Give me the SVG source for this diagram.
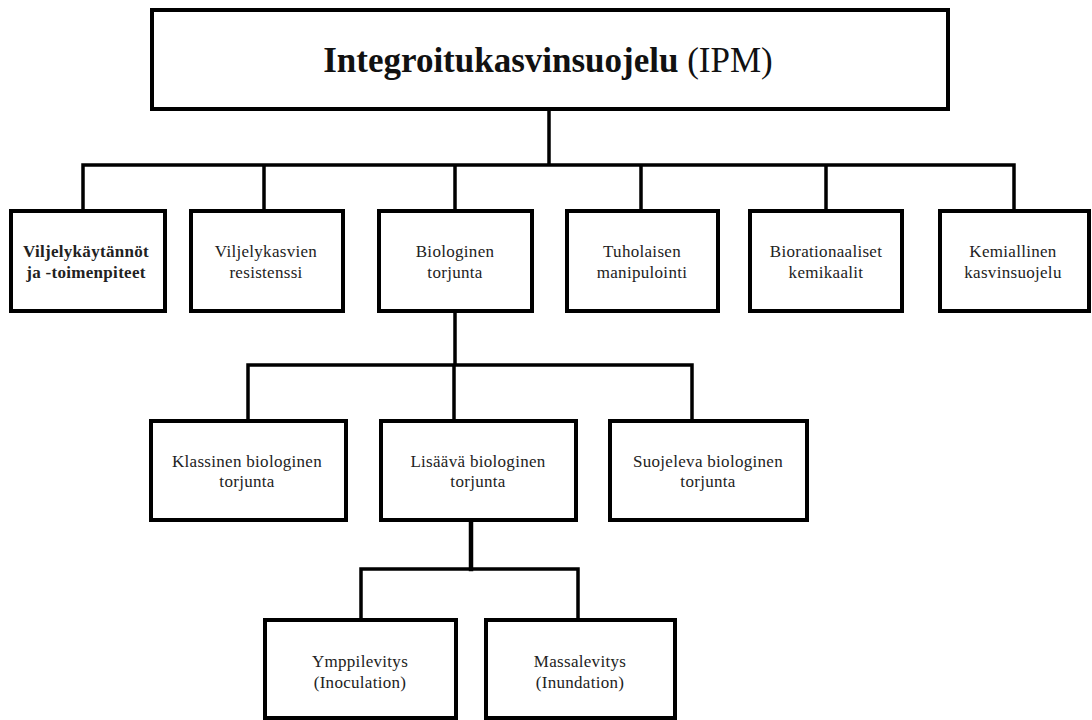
<svg xmlns="http://www.w3.org/2000/svg" width="1092" height="720" viewBox="0 0 1092 720">
<style>
.box{fill:#fff;stroke:#000;stroke-width:4}
.con{fill:none;stroke:#000;stroke-width:3.5;stroke-linecap:square}
text{font-family:"Liberation Serif","Times New Roman",serif;font-size:17px;fill:#222;text-anchor:middle;letter-spacing:0.3px}
.b{font-weight:bold}
</style>
<rect width="1092" height="720" fill="#fff"/>
<g id="connectors">
<path class="con" d="M549 109V165M83 165H1014M83 165V211M264 165V211M455 165V211M641 165V211M826 165V211M1014 165V211"/>
<path class="con" d="M455 311V365M248 365H692M248 365V421M454 365V421M692 365V421"/>
<path class="con" style="stroke-width:4.5" d="M471 520V569"/>
<path class="con" d="M361 569H578M361 569V620M578 569V620"/>
</g>
<g id="n-ipm"><rect class="box" x="152" y="10" width="796" height="99"/>
<text x="548" y="72" style="font-size:35px;fill:#111;letter-spacing:0"><tspan class="b">Integroitukasvinsuojelu</tspan> (IPM)</text></g>
<g id="n-viljelykaytannot"><rect class="box" x="11" y="211" width="154" height="100"/>
<text class="b" x="86" y="257">Viljelykäytännöt</text><text class="b" x="86" y="278">ja -toimenpiteet</text></g>
<g id="n-resistenssi"><rect class="box" x="191" y="211" width="152" height="100"/>
<text x="266" y="257">Viljelykasvien</text><text x="266" y="278">resistenssi</text></g>
<g id="n-biologinen"><rect class="box" x="379" y="211" width="153" height="100"/>
<text x="455" y="257">Biologinen</text><text x="455" y="278">torjunta</text></g>
<g id="n-tuholaisen"><rect class="box" x="567" y="211" width="151" height="100"/>
<text x="642" y="257">Tuholaisen</text><text x="642" y="278">manipulointi</text></g>
<g id="n-biorationaaliset"><rect class="box" x="750" y="211" width="152" height="100"/>
<text x="826" y="257">Biorationaaliset</text><text x="826" y="278">kemikaalit</text></g>
<g id="n-kemiallinen"><rect class="box" x="940" y="211" width="149" height="100"/>
<text x="1013" y="257">Kemiallinen</text><text x="1013" y="278">kasvinsuojelu</text></g>
<g id="n-klassinen"><rect class="box" x="151" y="421" width="195" height="99"/>
<text x="247" y="467">Klassinen biologinen</text><text x="247" y="487">torjunta</text></g>
<g id="n-lisaava"><rect class="box" x="381" y="421" width="195" height="99"/>
<text x="478" y="467">Lisäävä  biologinen</text><text x="478" y="487">torjunta</text></g>
<g id="n-suojeleva"><rect class="box" x="610" y="421" width="197" height="99"/>
<text x="708" y="467">Suojeleva biologinen</text><text x="708" y="487">torjunta</text></g>
<g id="n-ymppilevitys"><rect class="box" x="265" y="620" width="191" height="98"/>
<text x="360" y="667">Ymppilevitys</text><text x="360" y="688">(Inoculation)</text></g>
<g id="n-massalevitys"><rect class="box" x="486" y="620" width="189" height="98"/>
<text x="580" y="667">Massalevitys</text><text x="580" y="688">(Inundation)</text></g>
</svg>
